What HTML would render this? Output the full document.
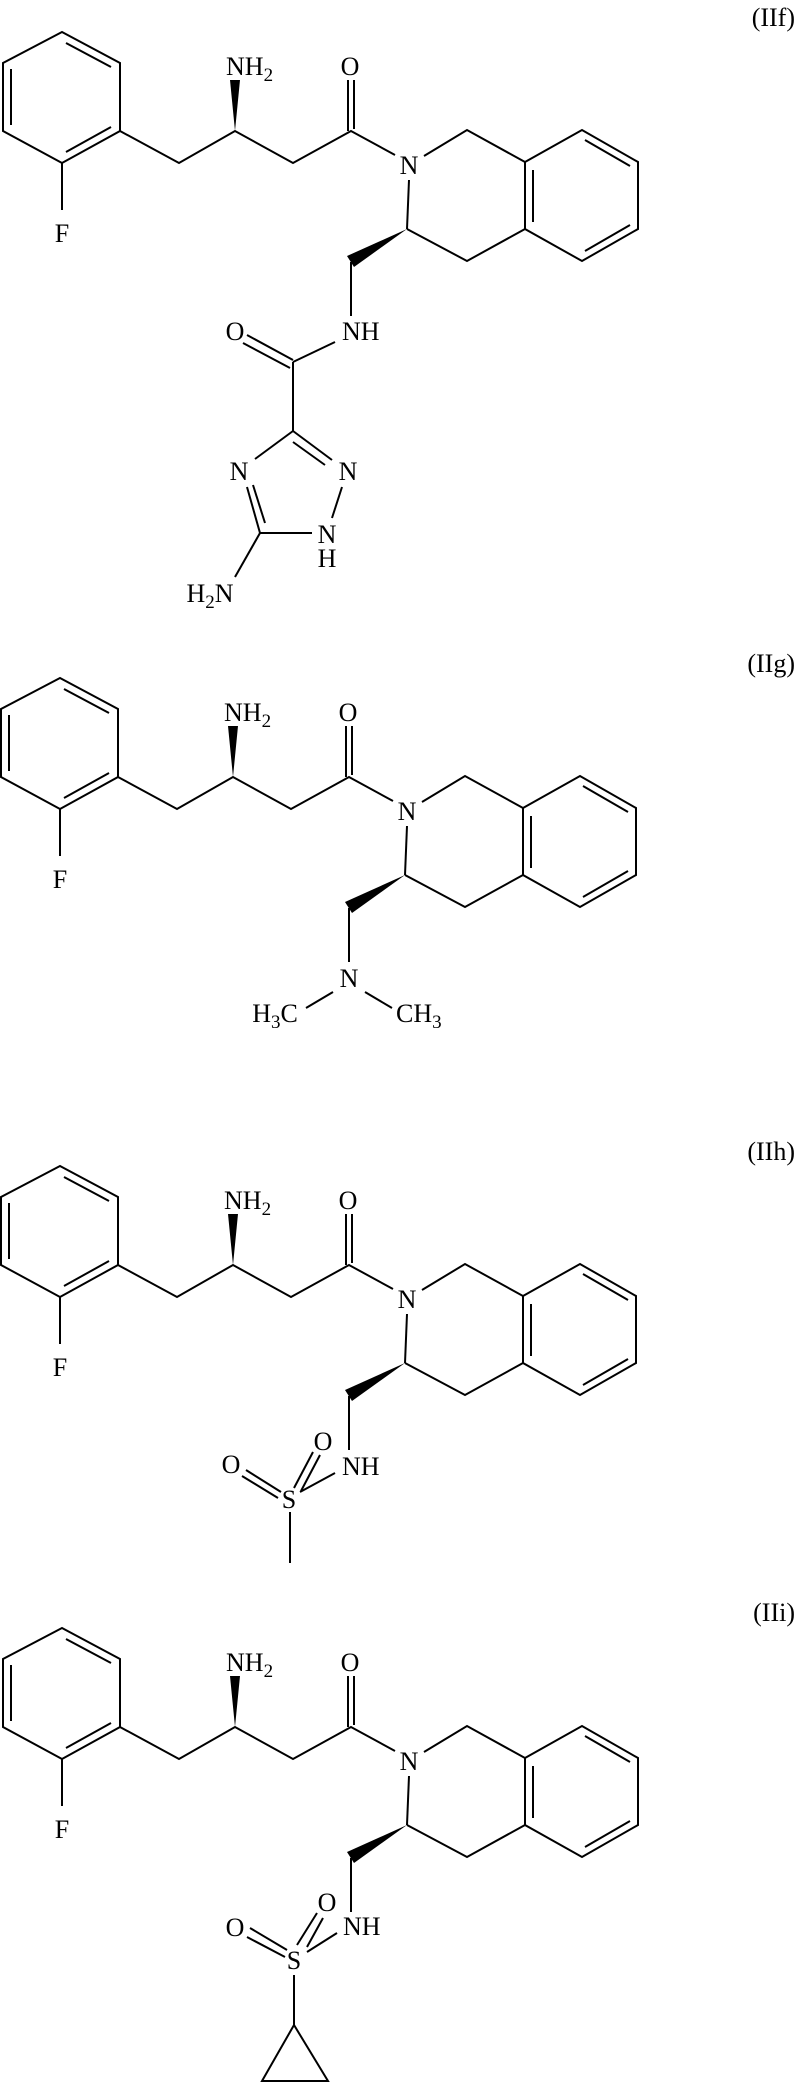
<!DOCTYPE html>
<html><head><meta charset="utf-8"><style>
html,body{margin:0;padding:0;background:#fff;}
svg{display:block;}
text{font-family:"Liberation Serif",serif;font-size:26px;fill:#000;}
.s{font-size:19px;}
</style></head><body>
<svg width="797" height="2084" viewBox="0 0 797 2084" xmlns="http://www.w3.org/2000/svg">
<defs>
<g id="core" fill="none" stroke="#000" stroke-width="2">
  <polygon points="62,32 120,63 120,131 62,163 3,131 3,63"/>
  <line x1="11" y1="69" x2="11" y2="125"/>
  <line x1="66" y1="43" x2="111" y2="67"/>
  <line x1="111" y1="127" x2="66" y2="152"/>
  <line x1="62" y1="163" x2="62" y2="210"/>
  <polyline points="120,131 179,163 235,131 293,163 351,131 395,155"/>
  <line x1="348" y1="131" x2="348" y2="80"/>
  <line x1="354" y1="129" x2="354" y2="80"/>
  <polygon points="235,131 230,80 240,80" fill="#000" stroke="none"/>
  <polyline points="424,156 467,130 525,162"/>
  <polygon points="525,162 582,130 638,162 638,229 582,261 525,229"/>
  <line x1="533" y1="170" x2="533" y2="222"/>
  <line x1="585" y1="140" x2="630" y2="166"/>
  <line x1="630" y1="225" x2="585" y2="251"/>
  <line x1="409" y1="180" x2="407" y2="229"/>
  <polyline points="407,229 467,261 525,229"/>
  <polygon points="407,229 347,256 354,267" fill="#000" stroke="none"/>
  <line x1="351" y1="262" x2="351" y2="316"/>
  <text x="62" y="242" text-anchor="middle" stroke="none" fill="#000">F</text>
  <text x="226" y="75" stroke="none" fill="#000">NH<tspan class="s" dy="6">2</tspan></text>
  <text x="350" y="75" text-anchor="middle" stroke="none" fill="#000">O</text>
  <text x="409" y="174" text-anchor="middle" stroke="none" fill="#000">N</text>
</g>
</defs>

<!-- IIf -->
<use href="#core" x="0" y="0"/>
<text x="795" y="26" text-anchor="end">(IIf)</text>
<g fill="none" stroke="#000" stroke-width="2">
  <line x1="335" y1="342" x2="293" y2="362"/>
  <line x1="293" y1="360" x2="247" y2="335"/>
  <line x1="290" y1="368" x2="243" y2="343"/>
  <line x1="293" y1="362" x2="293" y2="431"/>
  <line x1="293" y1="431" x2="332" y2="460"/>
  <line x1="293" y1="442" x2="325" y2="465"/>
  <line x1="293" y1="431" x2="255" y2="459"/>
  <line x1="247" y1="487" x2="260" y2="533"/>
  <line x1="253" y1="485" x2="265" y2="523"/>
  <line x1="260" y1="533" x2="312" y2="533"/>
  <line x1="332" y1="518" x2="342" y2="487"/>
  <line x1="260" y1="533" x2="235" y2="577"/>
</g>
<text x="342" y="340">NH</text>
<text x="235" y="340" text-anchor="middle">O</text>
<text x="348" y="480" text-anchor="middle">N</text>
<text x="239" y="480" text-anchor="middle">N</text>
<text x="327" y="543" text-anchor="middle">N</text>
<text x="327" y="567" text-anchor="middle">H</text>
<text x="210" y="602" text-anchor="middle">H<tspan class="s" dy="6">2</tspan><tspan dy="-6">N</tspan></text>

<!-- IIg -->
<use href="#core" x="-2" y="646"/>
<text x="795" y="672" text-anchor="end">(IIg)</text>
<g fill="none" stroke="#000" stroke-width="2">
  <line x1="333" y1="992" x2="306" y2="1008"/>
  <line x1="365" y1="992" x2="392" y2="1008"/>
</g>
<text x="349" y="987" text-anchor="middle">N</text>
<text x="275" y="1022" text-anchor="middle">H<tspan class="s" dy="6">3</tspan><tspan dy="-6">C</tspan></text>
<text x="396" y="1022">CH<tspan class="s" dy="6">3</tspan></text>

<!-- IIh -->
<use href="#core" x="-2" y="1134"/>
<text x="795" y="1160" text-anchor="end">(IIh)</text>
<g fill="none" stroke="#000" stroke-width="2">
  <line x1="300" y1="1492" x2="335" y2="1473"/>
  <line x1="294" y1="1488" x2="313" y2="1452"/>
  <line x1="301" y1="1491" x2="320" y2="1455"/>
  <line x1="281" y1="1492" x2="246" y2="1470"/>
  <line x1="278" y1="1498" x2="242" y2="1476"/>
  <line x1="290" y1="1512" x2="290" y2="1563"/>
</g>
<text x="342" y="1475">NH</text>
<text x="323" y="1450" text-anchor="middle">O</text>
<text x="231" y="1473" text-anchor="middle">O</text>
<text x="289" y="1508" text-anchor="middle">S</text>

<!-- IIi -->
<use href="#core" x="0" y="1596"/>
<text x="795" y="1621" text-anchor="end">(IIi)</text>
<g fill="none" stroke="#000" stroke-width="2">
  <line x1="307" y1="1952" x2="337" y2="1933"/>
  <line x1="297" y1="1945" x2="317" y2="1913"/>
  <line x1="307" y1="1947" x2="323" y2="1918"/>
  <line x1="285" y1="1957" x2="247" y2="1937"/>
  <line x1="287" y1="1950" x2="250" y2="1928"/>
  <line x1="294" y1="1975" x2="294" y2="2025"/>
  <polygon points="294,2025 262,2081 328,2081"/>
</g>
<text x="343" y="1935">NH</text>
<text x="327" y="1911" text-anchor="middle">O</text>
<text x="235" y="1936" text-anchor="middle">O</text>
<text x="294" y="1969" text-anchor="middle">S</text>
</svg>
</body></html>
